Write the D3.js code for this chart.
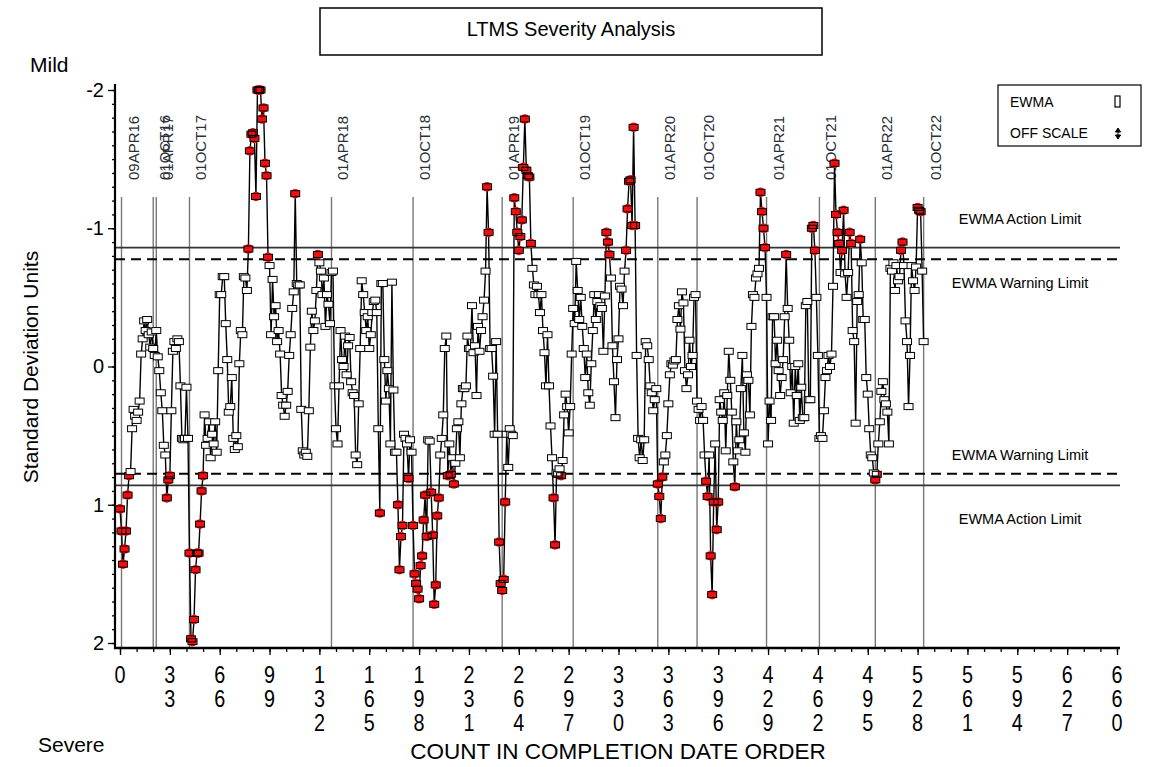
<!DOCTYPE html>
<html><head><meta charset="utf-8">
<script src="https://cdn.jsdelivr.net/npm/d3@7"></script>
<style>
body{margin:0;background:#fff;}
text{font-family:"Liberation Sans",Arial,sans-serif;fill:#000;}
</style></head>
<body>
<svg id="chart" width="1153" height="767"></svg>
<script>
// EWMA values in completion-date order (count = index)
const ewma = [
 1.03,1.19,1.43,1.32,1.19,0.93,0.79,0.76,0.45,0.31,
 0.36,0.39,0.33,0.25,-0.09,-0.20,-0.33,-0.26,-0.34,-0.23,
 -0.14,-0.25,-0.13,-0.08,-0.26,-0.07,0.03,0.19,0.32,0.57,
 0.64,0.95,0.82,0.79,0.32,-0.11,-0.18,-0.13,-0.20,-0.18,
 0.14,0.52,0.53,0.52,0.15,0.52,1.35,1.97,1.99,1.83,
 1.47,1.35,1.35,1.14,0.90,0.79,0.35,0.57,0.52,0.40,
 0.66,0.49,0.56,0.40,0.62,0.03,-0.52,-0.52,-0.65,-0.65,
 -0.31,-0.05,0.33,0.29,0.08,0.52,0.60,0.50,0.58,-0.02,
 -0.26,-0.23,-0.65,-0.64,-0.55,-0.85,-1.56,-1.68,-1.69,-1.65,
 -1.23,-2.00,-2.00,-2.00,-1.79,-1.87,-1.47,-1.38,-0.79,-0.73,
 -0.23,-0.63,-0.36,-0.44,-0.18,-0.26,-0.09,0.21,0.28,0.36,
 0.28,0.18,-0.08,-0.23,-0.42,-0.54,-1.25,-0.60,-0.59,-0.59,
 0.31,0.61,0.64,0.62,0.65,0.32,-0.14,-0.40,-0.26,-0.33,
 -0.55,-0.81,-0.75,-0.69,-0.52,-0.64,-0.29,-0.52,-0.45,-0.31,
 -0.68,-0.69,0.14,0.45,0.56,0.14,-0.26,-0.05,0.00,-0.22,
 0.06,-0.15,-0.21,0.11,0.19,0.21,0.64,0.71,0.27,-0.13,
 -0.62,-0.52,-0.39,-0.26,-0.36,-0.13,-0.23,-0.39,-0.47,-0.48,
 -0.39,0.45,1.06,-0.60,-0.60,-0.05,0.25,0.03,0.16,0.56,
 -0.61,0.17,0.62,0.62,1.00,1.47,1.23,1.15,0.49,0.52,
 0.56,0.81,0.53,0.62,1.15,1.50,1.57,1.61,1.68,1.44,
 1.37,1.11,0.93,1.23,0.53,0.54,0.91,1.22,1.72,1.58,
 1.08,0.95,0.64,0.52,0.35,-0.13,-0.22,0.79,0.56,0.78,
 0.66,0.85,0.70,0.45,0.40,0.66,0.27,0.16,0.16,0.14,
 -0.22,-0.13,-0.13,-0.44,-0.10,-0.15,0.21,-0.29,-0.11,-0.26,
 -0.36,-0.48,-0.69,-1.30,-0.97,-0.13,-0.13,0.07,0.49,-0.18,
 0.49,1.27,1.57,1.62,1.54,0.98,0.49,0.73,0.45,0.49,
 0.50,-1.22,-1.12,-0.97,-0.84,-0.94,-1.06,-1.44,-1.79,-1.42,
 -1.38,-1.37,-0.89,-0.71,-0.59,-0.52,-0.58,-0.52,-0.39,-0.52,
 -0.26,-0.10,0.14,-0.23,0.14,0.43,0.66,0.95,1.29,0.77,
 0.78,0.74,0.79,0.68,0.35,0.20,0.29,0.48,0.29,-0.09,
 -0.42,-0.31,-0.76,-0.55,-0.34,-0.50,-0.29,-0.13,0.08,-0.09,
 0.19,0.28,-0.02,-0.26,-0.52,-0.34,-0.47,-0.52,-0.44,-0.42,
 -0.11,-0.51,-0.97,-0.90,-0.81,-0.64,-0.15,0.11,0.37,-0.05,
 -0.20,-0.58,-0.56,-0.44,-0.69,-0.84,-1.14,-1.34,-1.35,-1.02,
 -1.73,-1.02,-0.08,0.52,0.66,0.53,0.68,0.53,-0.18,-0.15,
 -0.05,0.14,0.19,0.32,0.24,0.16,0.85,0.94,1.10,0.80,
 0.69,0.64,0.50,0.27,0.06,-0.02,-0.01,-0.04,-0.05,-0.34,
 -0.44,-0.27,-0.54,-0.46,0.03,0.16,0.06,-0.19,0.00,-0.08,
 -0.50,-0.52,0.25,0.31,0.39,0.29,0.39,0.64,0.83,0.94,
 0.64,1.37,1.65,0.98,0.56,1.18,0.98,0.24,0.33,0.39,
 0.19,0.61,0.21,-0.11,0.10,0.33,0.69,0.87,0.40,0.61,
 0.53,0.16,-0.08,0.48,0.62,0.06,0.10,0.35,-0.29,-0.52,
 -0.50,-0.64,-0.67,-0.71,-1.26,-1.12,-1.00,-0.86,-0.50,0.56,
 0.25,0.39,-0.36,-0.36,-0.02,-0.19,0.03,0.21,0.08,-0.05,
 -0.36,-0.81,-0.42,-0.19,0.19,0.00,0.41,0.00,0.21,-0.02,
 0.39,0.15,0.37,0.37,-0.44,-0.47,0.24,0.24,-1.00,-1.02,
 -0.84,-0.50,-0.08,0.52,0.50,0.52,0.32,0.08,0.03,-0.08,
 0.00,-0.09,-0.58,-1.47,-1.10,-0.97,-0.89,-0.68,-0.84,-1.13,
 -0.67,-0.50,-0.68,-0.97,-0.89,-0.26,-0.18,0.41,-0.47,-0.52,
 -0.92,-0.75,-0.34,-0.34,0.08,0.20,0.45,0.64,0.66,0.77,
 0.82,0.78,0.56,0.40,0.18,0.11,0.24,0.27,0.33,0.56,
 -0.71,-0.69,-0.75,-0.55,-0.73,-0.62,-0.65,-0.84,-0.90,-0.73,
 -0.33,-0.18,0.29,-0.08,-0.73,-0.62,-0.55,-0.72,-1.15,-1.13,
 -1.12,-0.69,-0.18
];

// date reference lines: labels and their count positions
const dateLabels = ["09APR16","01OCT16","01APR17","01OCT17","01APR18","01OCT18","01APR19","01OCT19","01APR20","01OCT20","01APR21","01OCT21","01APR22","01OCT22"];
const dateCounts = [1,22,24,46,140,194,253,300,356,382,428,463,500,532];

// limits
const actionLimit = 0.86;
const warningLimit = 0.775;

// axis ticks
const xTicks = [0,33,66,99,132,165,198,231,264,297,330,363,396,429,462,495,528,561,594,627,660];
const yTicks = [-2,-1,0,1,2];

const svg = d3.select("#chart");
const x = d3.scaleLinear().domain([0,660]).range([120,1117]);
const y = d3.scaleLinear().domain([-2,2]).range([90,643]);
const axisX0 = 115, axisX1 = 1120, axisY1 = 648;

// title
svg.append("rect").attr("x",320).attr("y",8).attr("width",502).attr("height",47)
  .attr("fill","none").attr("stroke","#000").attr("stroke-width",1.5);
svg.append("text").attr("x",571).attr("y",31).attr("text-anchor","middle")
  .attr("dominant-baseline","middle").style("font-size","20px").text("LTMS Severity Analysis");

// date lines and labels
const dl = svg.append("g");
dateCounts.forEach((c,i)=>{
  dl.append("line").attr("x1",x(c)).attr("x2",x(c)).attr("y1",197).attr("y2",axisY1)
    .attr("stroke","#777").attr("stroke-width",1.4);
  dl.append("text").attr("transform",`translate(${x(c)+17},180) rotate(-90)`)
    .style("font-size","15px").style("fill","#2a2f38").text(dateLabels[i]);
});

// limit lines
[actionLimit,-actionLimit].forEach(v=>{
  svg.append("line").attr("x1",axisX0).attr("x2",axisX1).attr("y1",y(v)).attr("y2",y(v))
    .attr("stroke","#333").attr("stroke-width",1.6);
});
[warningLimit,-warningLimit].forEach(v=>{
  svg.append("line").attr("x1",axisX0).attr("x2",axisX1).attr("y1",y(v)).attr("y2",y(v))
    .attr("stroke","#000").attr("stroke-width",2).attr("stroke-dasharray","10,6");
});
const lim = [["EWMA Action Limit",-actionLimit,-27],["EWMA Warning Limit",-warningLimit,25],
             ["EWMA Warning Limit",warningLimit,-17],["EWMA Action Limit",actionLimit,35]];
lim.forEach(d=>{
  svg.append("text").attr("x",1020).attr("y",y(d[1])+d[2]).attr("text-anchor","middle")
    .attr("dominant-baseline","middle").style("font-size","14.5px").text(d[0]);
});

// series
const pts = ewma.map((v,i)=>({c:i,v:v}));
svg.append("path").datum(pts)
  .attr("d",d3.line().x(d=>x(d.c)).y(d=>y(d.v)))
  .attr("fill","none").attr("stroke","#000").attr("stroke-width",1.4);
const flagged = pts.filter(d=>Math.abs(d.v)>warningLimit);
svg.append("g").selectAll("circle").data(flagged).join("circle")
  .attr("cx",d=>x(d.c)).attr("cy",d=>y(d.v)).attr("r",4.8).attr("fill","#ee1010");
svg.append("g").selectAll("rect").data(pts).join("rect")
  .attr("x",d=>x(d.c)-4.5).attr("y",d=>y(d.v)-3).attr("width",9).attr("height",6)
  .attr("fill",d=>Math.abs(d.v)>warningLimit?"none":"#fff")
  .attr("stroke","#000").attr("stroke-width",1);

// axes lines
svg.append("line").attr("x1",axisX0).attr("x2",axisX0).attr("y1",84).attr("y2",axisY1+1)
  .attr("stroke","#000").attr("stroke-width",2.2);
svg.append("line").attr("x1",axisX0-1).attr("x2",axisX1).attr("y1",axisY1).attr("y2",axisY1)
  .attr("stroke","#000").attr("stroke-width",2.5);

// y axis
const yMinor = svg.append("g").attr("transform",`translate(${axisX0},0)`)
  .call(d3.axisLeft(y).tickValues(d3.range(-20,21).map(k=>k/10)).tickSize(3).tickFormat(""));
yMinor.select(".domain").remove();
const yMajor = svg.append("g").attr("transform",`translate(${axisX0},0)`)
  .call(d3.axisLeft(y).tickValues(yTicks).tickSize(7).tickPadding(4).tickFormat(d=>d===0?"0":String(d).replace("−","-")));
yMajor.select(".domain").remove();
yMajor.selectAll("text").style("font-size","20px").style("font-family","'Liberation Sans',Arial,sans-serif");
svg.selectAll(".tick line").attr("stroke","#000").attr("stroke-width",1.3);

// x axis
const xMinor = svg.append("g").attr("transform",`translate(0,${axisY1})`)
  .call(d3.axisBottom(x).tickValues(d3.range(0,661,11)).tickSize(4).tickFormat(""));
xMinor.select(".domain").remove();
const xMajor = svg.append("g").attr("transform",`translate(0,${axisY1})`)
  .call(d3.axisBottom(x).tickValues(xTicks).tickSize(7).tickFormat(""));
xMajor.select(".domain").remove();
svg.selectAll(".tick line").attr("stroke","#000").attr("stroke-width",1.3);
xTicks.forEach(t=>{
  const s = String(t).split("");
  const tx = svg.append("text").attr("transform",`translate(${x(t)},0) scale(0.86,1)`)
    .attr("text-anchor","middle").style("font-size","23px");
  s.forEach((ch,k)=>{
    tx.append("tspan").attr("x",0).attr("y",683+k*24).text(ch);
  });
});

// axis titles
svg.append("text").attr("x",30).attr("y",66).attr("dominant-baseline","middle")
  .style("font-size","21px").text("Mild");
svg.append("text").attr("x",38).attr("y",746).attr("dominant-baseline","middle")
  .style("font-size","21px").text("Severe");
svg.append("text").attr("transform","translate(38,367) rotate(-90)").attr("text-anchor","middle")
  .style("font-size","21px").text("Standard Deviation Units");
svg.append("text").attr("x",618).attr("y",753).attr("text-anchor","middle")
  .attr("dominant-baseline","middle").style("font-size","22.5px").text("COUNT IN COMPLETION DATE ORDER");

// legend
svg.append("rect").attr("x",998).attr("y",85).attr("width",143).attr("height",61)
  .attr("fill","#fff").attr("stroke","#000").attr("stroke-width",1.2);
svg.append("text").attr("x",1010).attr("y",103).attr("dominant-baseline","middle")
  .style("font-size","14px").text("EWMA");
svg.append("rect").attr("x",1115).attr("y",96).attr("width",5).attr("height",11)
  .attr("fill","#fff").attr("stroke","#000").attr("stroke-width",1.2);
svg.append("text").attr("x",1010).attr("y",134).attr("dominant-baseline","middle")
  .style("font-size","14px").text("OFF SCALE");
svg.append("path").attr("d","M1118,128 l-2.6,4 h5.2 z M1118,139 l-2.6,-4 h5.2 z M1118,130 v7")
  .attr("fill","#000").attr("stroke","#000").attr("stroke-width",1);
</script>
</body></html>
